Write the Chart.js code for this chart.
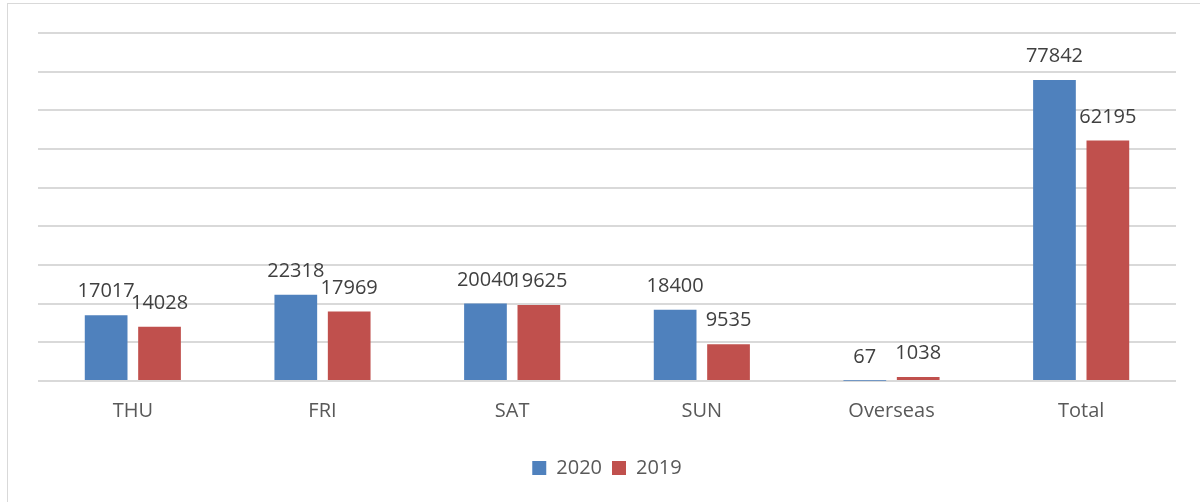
<!DOCTYPE html>
<html>
<head>
<meta charset="utf-8">
<script src="https://cdn.jsdelivr.net/npm/chart.js@4/dist/chart.umd.min.js"></script>
<style>
  html, body { margin: 0; padding: 0; background: #fff; }
  #wrap { position: relative; width: 1200px; height: 502px; overflow: hidden; }
  #frame { position: absolute; left: 7px; top: 3px; width: 1210px; height: 520px; border: 1.5px solid #d9d9d9; box-sizing: border-box; }
  #c { position: absolute; left: 0; top: 0; }
</style>
</head>
<body>
<div id="wrap">
  <div id="frame"></div>
  <canvas id="c" width="1200" height="502"></canvas>
</div>
<script>
const categories = ["THU", "FRI", "SAT", "SUN", "Overseas", "Total"];
const series2020 = [17017, 22318, 20040, 18400, 67, 77842];
const series2019 = [14028, 17969, 19625, 9535, 1038, 62195];
const seriesNames = ["2020", "2019"];
const yTicks = { min: 0, max: 90000, step: 10000 };

const FONT = "'Open Sans', sans-serif";

const labelPlugin = {
  id: 'valueLabels',
  afterDatasetsDraw(chart) {
    const ctx = chart.ctx;
    ctx.save();
    ctx.font = "20px " + FONT;
    ctx.fillStyle = "#404040";
    ctx.textAlign = "center";
    ctx.textBaseline = "alphabetic";
    chart.data.datasets.forEach((ds, i) => {
      const meta = chart.getDatasetMeta(i);
      meta.data.forEach((bar, j) => {
        ctx.fillText(String(ds.data[j]), bar.x, bar.y - 18);
      });
    });
    ctx.restore();
  }
};

new Chart(document.getElementById('c'), {
  type: 'bar',
  data: {
    labels: categories,
    datasets: [
      { label: seriesNames[0], data: series2020, backgroundColor: "#4f81bd" },
      { label: seriesNames[1], data: series2019, backgroundColor: "#c0504d" }
    ]
  },
  options: {
    responsive: false,
    animation: false,
    devicePixelRatio: 1,
    layout: { padding: { left: 38, right: 24, top: 33, bottom: 14 } },
    datasets: { bar: { categoryPercentage: 0.563, barPercentage: 0.8 } },
    scales: {
      x: {
        grid: { display: false, drawTicks: false },
        border: { display: false },
        ticks: { color: "#595959", font: { family: FONT, size: 20 }, padding: 18, maxRotation: 0 },
        afterFit(scale) { scale.height += 7; }
      },
      y: {
        min: yTicks.min, max: yTicks.max,
        ticks: { display: false, stepSize: yTicks.step },
        grid: { color: "#d9d9d9", lineWidth: 2, drawTicks: false },
        border: { display: false },
        afterFit(scale) { scale.width = 0; }
      }
    },
    plugins: {
      legend: {
        position: 'bottom',
        labels: {
          boxWidth: 14, boxHeight: 14, padding: 10,
          color: "#595959",
          font: { family: FONT, size: 20 }
        }
      },
      tooltip: { enabled: false }
    }
  },
  plugins: [labelPlugin]
});
</script>
</body>
</html>
